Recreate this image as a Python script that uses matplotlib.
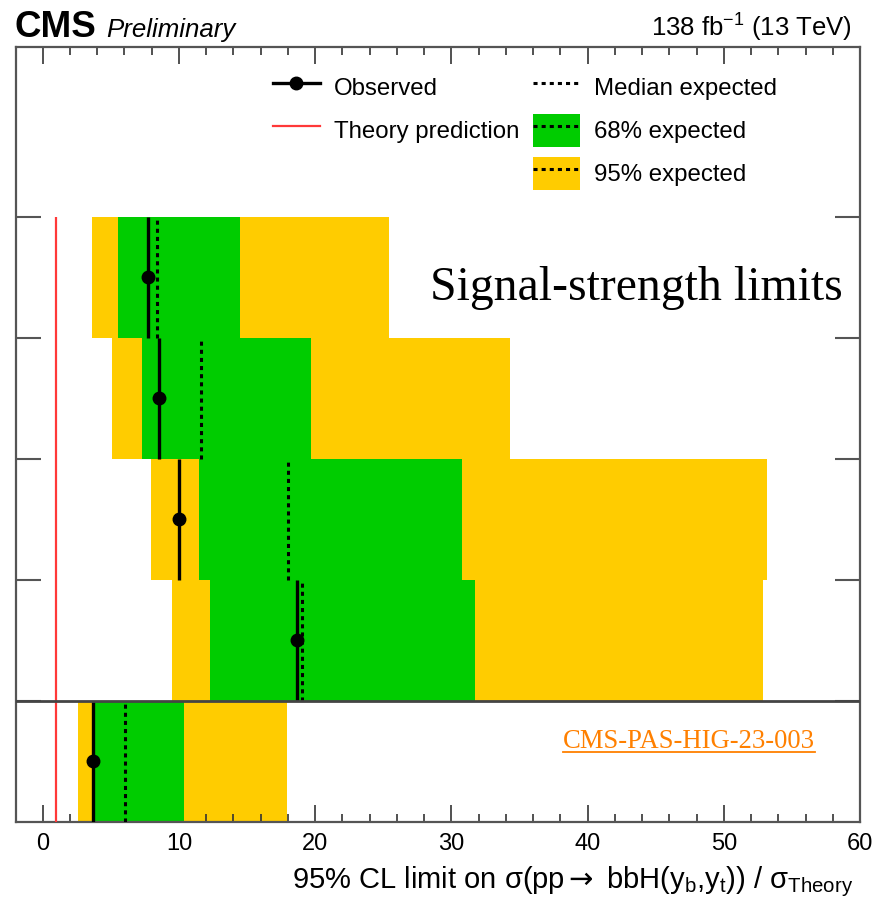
import matplotlib
matplotlib.use("Agg")
import matplotlib.pyplot as plt
from matplotlib.lines import Line2D
from matplotlib.patches import Patch
from matplotlib.ticker import MultipleLocator

plt.rcParams["font.family"] = ["Liberation Sans", "DejaVu Sans"]
plt.rcParams["mathtext.fontset"] = "custom"
plt.rcParams["mathtext.rm"] = "Liberation Sans"
plt.rcParams["mathtext.it"] = "Liberation Sans:italic"
plt.rcParams["mathtext.sf"] = "DejaVu Sans"
plt.rcParams["mathtext.default"] = "regular"

# Limits per category, listed from the top row down (last row: combination)
categories = ["cat1", "cat2", "cat3", "cat4", "combined"]
observed = [7.7, 8.5, 10.0, 18.65, 3.7]
expected_median = [8.4, 11.6, 18.0, 19.05, 6.05]
expected_68_lo = [5.55, 7.27, 11.48, 12.26, 3.84]
expected_68_hi = [14.5, 19.7, 30.76, 31.76, 10.37]
expected_95_lo = [3.6, 5.07, 7.93, 9.52, 2.59]
expected_95_hi = [25.4, 34.3, 53.16, 52.9, 17.96]
theory = 1.0

GREEN = "#00cc00"
YELLOW = "#ffcc00"
RED = "#ff3838"
AXCOL = "#555555"

W, H = 876, 905
fig = plt.figure(figsize=(W / 100, H / 100), dpi=100)
ax = fig.add_axes([15.5 / W, 1 - 822 / H, (860 - 15.5) / W, (822 - 47) / H])

n = len(categories)
row_lo = [n - 1 - i for i in range(n)]
row_mid = [r + 0.5 for r in row_lo]
row_hi = [r + 1 for r in row_lo]

ax.barh(row_mid, [h - l for l, h in zip(expected_95_lo, expected_95_hi)],
        left=expected_95_lo, height=1.0, color=YELLOW, linewidth=0, zorder=1)
ax.barh(row_mid, [h - l for l, h in zip(expected_68_lo, expected_68_hi)],
        left=expected_68_lo, height=1.0, color=GREEN, linewidth=0, zorder=2)

dots = (0, (1.33, 1.33))
ax.vlines(expected_median, row_lo, row_hi, colors="black", linewidth=2.2,
          linestyles=[dots], zorder=3)
ax.vlines(observed, row_lo, row_hi, colors="black", linewidth=2.4, zorder=4)
ax.plot(observed, row_mid, "o", color="black", markersize=9, zorder=5)

ax.vlines(theory, 0, n, colors=RED, linewidth=1.6, zorder=4)
ax.axhline(1, color="#444444", linewidth=2.0, zorder=6)

ax.set_xlim(-2, 60)
ax.set_ylim(0, 6.4)

ax.xaxis.set_major_locator(MultipleLocator(10))
ax.xaxis.set_minor_locator(MultipleLocator(2))
ax.tick_params(axis="x", which="major", direction="in", length=12, width=1.2,
               top=True, bottom=True, color="#333333", labelsize=17, pad=8)
ax.tick_params(axis="x", which="minor", direction="in", length=6, width=1.2,
               top=True, bottom=True, color="#333333")
ax.set_yticks([1, 2, 3, 4, 5])
ax.set_yticklabels([])
ax.tick_params(axis="y", which="major", direction="in", length=18, width=1.5,
               left=True, right=True, color=AXCOL)
for s in ax.spines.values():
    s.set_color(AXCOL)
    s.set_linewidth(1.6)

# Legend, two columns
h_obs = Line2D([], [], color="black", linewidth=2.4, marker="o", markersize=9)
h_th = Line2D([], [], color=RED, linewidth=1.6)
h_med = Line2D([], [], color="black", linewidth=2.2, linestyle=dots)
h_68 = (Patch(facecolor=GREEN, edgecolor="none"), h_med)
h_95 = (Patch(facecolor=YELLOW, edgecolor="none"), h_med)

common = dict(frameon=False, fontsize=17.3, handlelength=1.95, handleheight=1.71,
              labelspacing=0.44, handletextpad=0.6, borderpad=0,
              borderaxespad=0, loc="upper left", bbox_transform=fig.transFigure)
leg1 = ax.legend([h_obs, h_th], ["Observed", "Theory prediction"],
                 bbox_to_anchor=(273 / W, 1 - 71 / H), **common)
ax.add_artist(leg1)
ax.legend([h_med, h_68, h_95], ["Median expected", "68% expected", "95% expected"],
          bbox_to_anchor=(533 / W, 1 - 71 / H), **common)

# Header and labels
fig.text(15 / W, 1 - 37 / H, "CMS", fontsize=26.5, fontweight="bold", va="baseline")
fig.text(106 / W, 1 - 37 / H, "Preliminary", fontsize=18.6, style="italic", va="baseline")
fig.text(852 / W, 1 - 37 / H, "138 fb$^{-1}$ (13 TeV)", fontsize=18.5,
         ha="right", va="baseline")
fig.text(853 / W, 1 - 888 / H,
         r"95% CL limit on σ(pp$\mathsf{\rightarrow}$ bbH(y$_{b}$,y$_{t}$)) / σ$_{Theory}$",
         fontsize=21, ha="right", va="baseline")

fig.text(430 / W, 1 - 300 / H, "Signal-strength limits", family="Liberation Serif",
         fontsize=34.4, va="baseline")
ref = fig.text(563 / W, 1 - 748 / H, "CMS-PAS-HIG-23-003", family="Liberation Serif",
               fontsize=19.2, color="#ff8000", va="baseline")

fig.canvas.draw()
bb = ref.get_window_extent()
uy = (H - 752) / H
fig.add_artist(Line2D([bb.x0 / W, bb.x1 / W], [uy, uy], transform=fig.transFigure,
                      color="#ff8000", linewidth=1.3))

fig.savefig("out.png", dpi=100)
